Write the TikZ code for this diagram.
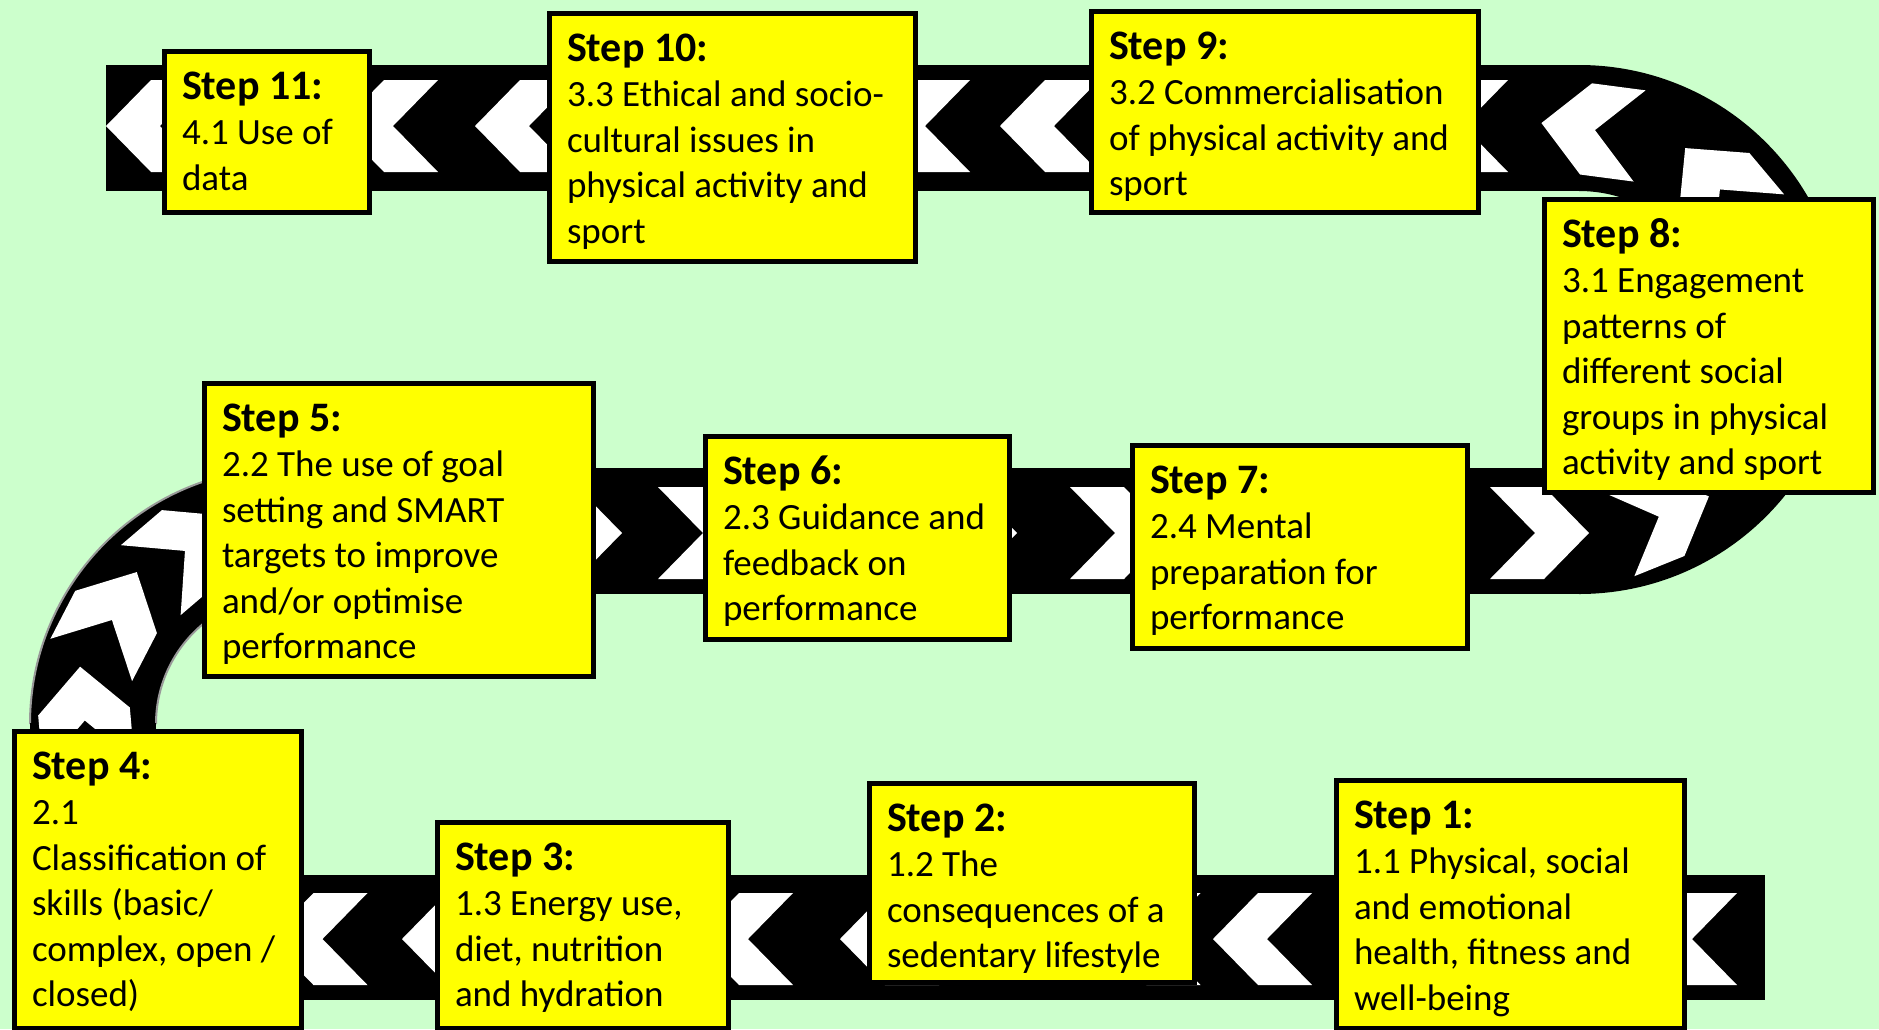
\documentclass[tikz,border=0pt]{standalone}
\usepackage{fontspec}
\setmainfont{Carlito}
\definecolor{bg}{HTML}{CCFFCC}
\definecolor{boxyellow}{HTML}{FFFF00}
\tikzset{
  road/.style={fill=black},
  chev/.style={fill=white},
  roadedge/.style={draw=gray!80, line width=2pt},
  stepbox/.style={draw=black, line width=5pt, fill=boxyellow, inner sep=0pt, outer sep=0pt, anchor=north west, font=\fontsize{37}{45.5}\selectfont}
}
\newcommand\chevron[3]{\fill[chev, shift={(#1,#2)}, rotate=#3] (-49.5,46) -- (4.5,46) -- (49.5,0) -- (4.5,-46) -- (-49.5,-46) -- (-4.5,0) -- cycle;}
\newcommand\boxtext[3]{\begin{minipage}[t][#2pt][t]{#1pt}\raggedright\leftskip=17.5pt\hbadness=10000\rule{0pt}{47.5pt}#3\end{minipage}}
\newcommand\hd[1]{{\fontsize{42}{45.5}\selectfont\bfseries #1}}
\begin{document}
\begin{tikzpicture}[x=1pt,y=-1pt]
\useasboundingbox (0,0) rectangle (1879,1029);
\clip (0,0) rectangle (1879,1029);
\fill[bg] (0,0) rectangle (1879,1029);
% roads
\fill[road] (106,65) rectangle (1580,191);
\fill[road] (1579,65) arc[start angle=-90,end angle=90,radius=264.5] -- (1579,468) arc[start angle=90,end angle=-90,radius=138.5] -- cycle;
\fill[road] (285,468) rectangle (1580,594);
\fill[road] (286,468) arc[start angle=-90,end angle=-180,radius=256] -- (156,724) arc[start angle=180,end angle=270,radius=130] -- cycle;
\draw[roadedge] (286,468) arc[start angle=-90,end angle=-180,radius=256];
\draw[roadedge] (156,724) arc[start angle=180,end angle=270,radius=130];
\fill[road] (30,723) rectangle (156,1000);
\fill[road] (30,875) rectangle (1765,1000);
% chevrons top road
\chevron{155.5}{126}{180}
\chevron{388.5}{126}{180}
\chevron{524.5}{126}{180}
\chevron{920.5}{126}{180}
\chevron{1049.5}{126}{180}
\chevron{1458.5}{126}{180}
\chevron{1590.5}{129.5}{172.5}
\chevron{1717}{186}{130}
% right arc lower
\chevron{1663}{515}{22}
% middle road
\chevron{572.5}{533}{0}
\chevron{707.5}{533}{0}
\chevron{967.5}{533}{0}
\chevron{1119.5}{533}{0}
\chevron{1539.5}{533}{0}
% left arc
\chevron{188.4}{548}{40.5}
\chevron{114}{616}{62.6}
\chevron{84.4}{716}{95}
% bottom road
\chevron{318}{939}{180}
\chevron{451.5}{939}{180}
\chevron{743.5}{939}{180}
\chevron{889.5}{939}{180}
\chevron{1151}{939}{180}
\chevron{1262.5}{939}{180}
\chevron{1687.5}{939}{180}
% step boxes
\node[stepbox] (s11) at (164.5,51.5) {\boxtext{205}{161}{\hd{Step 11:}\\4.1 Use of\\data}};
\node[stepbox] (s10) at (549.5,13.5) {\boxtext{366}{248}{\hd{Step 10:}\\3.3 Ethical and socio-\\cultural issues in\\physical activity and\\sport}};
\node[stepbox] (s9) at (1091.5,11.5) {\boxtext{387}{201}{\hd{Step 9:}\\3.2 Commercialisation\\of physical activity and\\sport}};
\node[stepbox] (s8) at (1544.5,199.5) {\boxtext{329}{293}{\hd{Step 8:}\\3.1 Engagement\\patterns of\\different social\\groups in physical\\activity and sport}};
\node[stepbox] (s5) at (204.5,383.5) {\boxtext{389}{293}{\hd{Step 5:}\\2.2 The use of goal\\setting and SMART\\targets to improve\\and/or optimise\\performance}};
\node[stepbox] (s6) at (705.5,436.5) {\boxtext{304}{203}{\hd{Step 6:}\\2.3 Guidance and\\feedback on\\performance}};
\node[stepbox] (s7) at (1132.5,445.5) {\boxtext{335}{203}{\hd{Step 7:}\\2.4 Mental\\preparation for\\performance}};
\node[stepbox] (s4) at (14.5,731.5) {\boxtext{287}{297}{\hd{Step 4:}\\2.1\\Classification of\\skills (basic/\\complex, open /\\closed)}};
\node[stepbox] (s3) at (437.5,822.5) {\boxtext{291}{206}{\hd{Step 3:}\\1.3 Energy use,\\diet, nutrition\\and hydration}};
\node[stepbox] (s2) at (869.5,783.5) {\boxtext{325}{199}{\hd{Step 2:}\\1.2 The\\consequences of a\\sedentary lifestyle}};
\node[stepbox] (s1) at (1336.5,780.5) {\boxtext{348}{248}{\hd{Step 1:}\\1.1 Physical, social\\and emotional\\health, fitness and\\well-being}};
\end{tikzpicture}
\end{document}
